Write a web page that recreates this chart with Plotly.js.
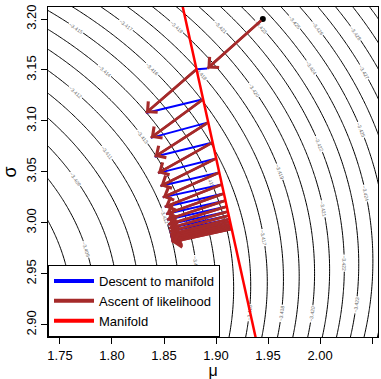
<!DOCTYPE html>
<html><head><meta charset="utf-8">
<script src="https://cdn.plot.ly/plotly-3.0.1.min.js"></script>
<style>html,body{margin:0;padding:0;background:#fff}#chart{width:381px;height:379px}</style>
</head><body><div id="chart"></div>
<script>
const llMuHat = 1.399;
const llVarHat = 8.351;
const llConst = -1.838;
const contourStart = -3.430, contourEnd = -3.400, contourStep = 0.001;
const gridMu = [1.70, 2.10];
const gridSigma = [2.85, 3.25];

// ---- Starting point ----
const startMu = [1.945];
const startSigma = [3.20];

// ---- Ascent of likelihood arrows (from -> to) ----
const ascFromMu = [1.945, 1.8813, 1.8876, 1.8925, 1.8968, 1.9002, 1.9031, 1.9057, 1.9076, 1.9091, 1.9103, 1.9114, 1.9122, 1.9130, 1.9135, 1.9141, 1.9145, 1.9148, 1.9151];
const ascFromSigma = [3.20, 3.1507, 3.1212, 3.0986, 3.0789, 3.0632, 3.0494, 3.0377, 3.0288, 3.0219, 3.0160, 3.0111, 3.0072, 3.0037, 3.0012, 2.9988, 2.9968, 2.9954, 2.9939];
const ascToMu = [1.8917, 1.8326, 1.8373, 1.8410, 1.8442, 1.8466, 1.8488, 1.8507, 1.8520, 1.8530, 1.8540, 1.8547, 1.8553, 1.8559, 1.8562, 1.8566, 1.8570, 1.8572, 1.8574];
const ascToSigma = [3.1515, 3.1078, 3.0834, 3.0648, 3.0488, 3.0361, 3.0250, 3.0156, 3.0086, 3.0031, 2.9984, 2.9946, 2.9915, 2.9887, 2.9868, 2.9849, 2.9833, 2.9822, 2.9811];

// ---- Manifold ----
const manifoldMu = [1.8598, 1.9462];
const manifoldSigma = [3.25, 2.85];

// ---- Legend labels ----
const legendLabels = ["Descent to manifold", "Ascent of likelihood", "Manifold"];
const colDescent = "#0000FF", colAscent = "#A52A2A", colManifold = "#FF0000";

// contour grid
const nG = 161;
const xs = [], ys = [];
for (let i = 0; i < nG; i++) {
  xs.push(gridMu[0] + (gridMu[1] - gridMu[0]) * i / (nG - 1));
  ys.push(gridSigma[0] + (gridSigma[1] - gridSigma[0]) * i / (nG - 1));
}
const zs = ys.map(s => xs.map(m => llConst - Math.log(s) - (llVarHat + (m - llMuHat) ** 2) / (2 * s * s)));

// blue descent segments: end of ascent k -> start of ascent k+1
const bx = [], by = [];
for (let k = 0; k < ascToMu.length - 1; k++) {
  bx.push(ascToMu[k], ascFromMu[k + 1], null);
  by.push(ascToSigma[k], ascFromSigma[k + 1], null);
}
// brown shafts
const rx = [], ry = [];
for (let k = 0; k < ascToMu.length; k++) {
  rx.push(ascFromMu[k], ascToMu[k], null);
  ry.push(ascFromSigma[k], ascToSigma[k], null);
}

const font = "Liberation Sans, Arial, Helvetica, sans-serif";
const traces = [
  {type: "contour", x: xs, y: ys, z: zs, showscale: false, showlegend: false, hoverinfo: "skip",
   contours: {coloring: "none", start: contourStart, end: contourEnd, size: contourStep,
              showlabels: true, labelfont: {size: 5, color: "#666", family: font}, labelformat: ".3f"},
   line: {color: "black", width: 1, smoothing: 1}},
  {type: "scatter", mode: "lines", x: bx, y: by, line: {color: colDescent, width: 2}, showlegend: false, hoverinfo: "skip"},
  {type: "scatter", mode: "lines", x: rx, y: ry, line: {color: colAscent, width: 2.5}, showlegend: false, hoverinfo: "skip"},
  {type: "scatter", mode: "lines", x: manifoldMu, y: manifoldSigma, line: {color: colManifold, width: 2.5}, showlegend: false, hoverinfo: "skip"},
  {type: "scatter", mode: "markers", x: startMu, y: startSigma, marker: {color: "black", size: 6}, showlegend: false, hoverinfo: "skip"},
  {type: "scatter", mode: "lines", x: [null], y: [null], name: legendLabels[0], line: {color: colDescent, width: 4}},
  {type: "scatter", mode: "lines", x: [null], y: [null], name: legendLabels[1], line: {color: colAscent, width: 4}},
  {type: "scatter", mode: "lines", x: [null], y: [null], name: legendLabels[2], line: {color: colManifold, width: 4}}
];

const annotations = ascToMu.map((m, k) => ({
  x: m, y: ascToSigma[k], ax: ascFromMu[k], ay: ascFromSigma[k],
  xref: "x", yref: "y", axref: "x", ayref: "y", text: "", showarrow: true,
  arrowhead: 4, arrowsize: 1.1, arrowwidth: 2.5, arrowcolor: colAscent
}));

const axisCommon = {
  showline: true, mirror: true, linecolor: "black", linewidth: 1,
  ticks: "outside", ticklen: 6, tickwidth: 1, tickcolor: "black",
  showgrid: false, zeroline: false, tickformat: ".2f",
  tickfont: {family: font, size: 13, color: "black"}
};

const layout = {
  width: 381, height: 379,
  margin: {l: 48, r: 3, t: 7, b: 42},
  paper_bgcolor: "white", plot_bgcolor: "white",
  showlegend: true,
  legend: {x: 0, y: 0, xanchor: "left", yanchor: "bottom", bgcolor: "white",
           bordercolor: "black", borderwidth: 1, font: {family: font, size: 13, color: "black"},
           tracegroupgap: 0, itemwidth: 40},
  xaxis: Object.assign({}, axisCommon, {range: [1.7385, 2.0557], tick0: 1.75, dtick: 0.05,
           title: {text: "μ", font: {family: font, size: 16, color: "black"}, standoff: 6}}),
  yaxis: Object.assign({}, axisCommon, {range: [2.888, 3.2118], tick0: 2.90, dtick: 0.05, tickangle: -90,
           title: {text: "σ", font: {family: font, size: 18, color: "black"}, standoff: 2}}),
  annotations: annotations
};

Plotly.newPlot("chart", traces, layout, {displayModeBar: false, staticPlot: true});
</script></body></html>
